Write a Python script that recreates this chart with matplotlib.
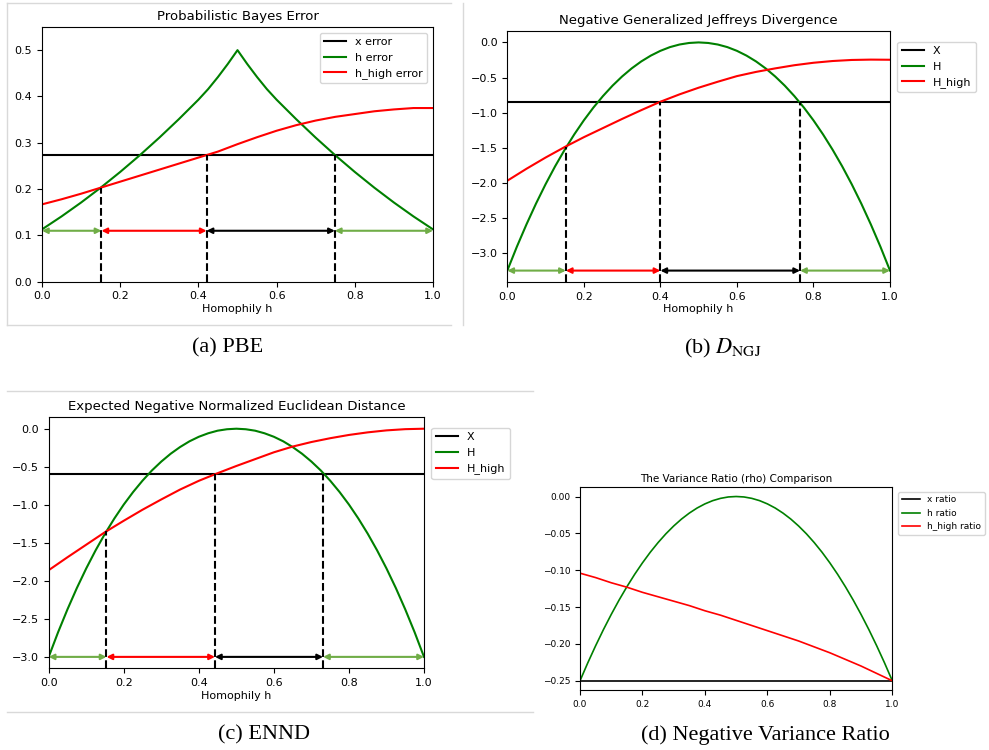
import matplotlib
matplotlib.use("Agg")
from matplotlib import pyplot as plt
from matplotlib.lines import Line2D

plt.rcParams['mathtext.fontset'] = 'stix'

# homophily grids (coarse for the red curves, fine for the green ones)
h = [0.0, 0.05, 0.1, 0.15, 0.2, 0.25, 0.3, 0.35, 0.4, 0.45, 0.5,
     0.55, 0.6, 0.65, 0.7, 0.75, 0.8, 0.85, 0.9, 0.95, 1.0]
h_fine = [i / 40 for i in range(41)]

# (a) PBE
pbe_x = 0.273
pbe_h_left = [0.113, 0.127, 0.141, 0.156, 0.171, 0.187, 0.203, 0.220, 0.237, 0.255, 0.273,
              0.292, 0.311, 0.331, 0.351, 0.372, 0.393, 0.416, 0.442, 0.470, 0.500]
pbe_h = pbe_h_left + pbe_h_left[-2::-1]
pbe_high = [0.167, 0.178, 0.190, 0.203, 0.216, 0.229, 0.242, 0.255, 0.268, 0.281, 0.297,
            0.312, 0.326, 0.338, 0.348, 0.356, 0.362, 0.368, 0.372, 0.375, 0.375]
pbe_cuts = [0.152, 0.421, 0.749]
pbe_cut_vals = [0.203, 0.273, 0.273]
pbe_arrow_y = 0.11

# (b) negative generalized Jeffreys divergence
ngj_x = -0.845
ngj_h_left = [-3.25, -2.910, -2.593, -2.296, -2.020, -1.764, -1.528, -1.310, -1.110, -0.928,
              -0.764, -0.616, -0.485, -0.370, -0.271, -0.188, -0.120, -0.067, -0.030, -0.008, 0.0]
ngj_h = ngj_h_left + ngj_h_left[-2::-1]
ngj_high = [-1.97, -1.80, -1.64, -1.49, -1.35, -1.22, -1.09, -0.965, -0.845, -0.74, -0.645,
            -0.56, -0.48, -0.42, -0.37, -0.325, -0.29, -0.265, -0.25, -0.245, -0.247]
ngj_cuts = [0.153, 0.400, 0.765]
ngj_cut_vals = [-1.485, -0.845, -0.845]
ngj_arrow_y = -3.25

# (c) expected negative normalized euclidean distance
ennd_x = -0.60
ennd_h_left = [-3.0, -2.676, -2.375, -2.095, -1.837, -1.599, -1.380, -1.180, -0.997, -0.832,
               -0.683, -0.549, -0.432, -0.329, -0.241, -0.166, -0.106, -0.060, -0.026, -0.007, 0.0]
ennd_h = ennd_h_left + ennd_h_left[-2::-1]
ennd_high = [-1.86, -1.69, -1.525, -1.36, -1.21, -1.065, -0.93, -0.80, -0.685, -0.585, -0.49,
             -0.40, -0.31, -0.235, -0.175, -0.125, -0.082, -0.048, -0.022, -0.006, 0.0]
ennd_cuts = [0.154, 0.443, 0.731]
ennd_cut_vals = [-1.35, -0.60, -0.60]
ennd_arrow_y = -3.0

# (d) negative variance ratio
rho_x = -0.25
rho_h_left = [-0.25, -0.2256, -0.2025, -0.1806, -0.16, -0.1406, -0.1225, -0.1056, -0.09, -0.0756,
              -0.0625, -0.0506, -0.04, -0.0306, -0.0225, -0.0156, -0.01, -0.0056, -0.0025, -0.0006, 0.0]
rho_h = rho_h_left + rho_h_left[-2::-1]
rho_high = [-0.104, -0.110, -0.117, -0.123, -0.130, -0.136, -0.142, -0.148, -0.155, -0.161, -0.168,
            -0.175, -0.182, -0.189, -0.196, -0.204, -0.212, -0.221, -0.230, -0.240, -0.25]

W, H = 989, 750
fig = plt.figure(figsize=(W / 100, H / 100), dpi=100)


def rect(left, top, right, bottom):
    return [left / W, 1 - bottom / H, (right - left) / W, (bottom - top) / H]


light_green = '#70ad47'


def draw_panel(ax, xval, hval, highval, labels, cuts, cut_vals, arrow_y, ylim):
    ax.plot([0, 1], [xval, xval], color='black', lw=1.5, label=labels[0])
    ax.plot(h_fine, hval, color='green', lw=1.5, label=labels[1])
    ax.plot(h, highval, color='red', lw=1.5, label=labels[2])
    ax.set_xlim(0, 1)
    ax.set_ylim(*ylim)
    for c, v in zip(cuts, cut_vals):
        ax.plot([c, c], [ylim[0], v], color='black', lw=1.5, ls='--')
    seg = [0.0] + cuts + [1.0]
    cols = [light_green, 'red', 'black', light_green]
    for i in range(4):
        ax.annotate('', xy=(seg[i + 1], arrow_y), xytext=(seg[i], arrow_y),
                    arrowprops=dict(arrowstyle='<|-|>', color=cols[i], lw=1.5,
                                    shrinkA=0, shrinkB=0, mutation_scale=8))
    ax.tick_params(labelsize=8)
    ax.set_xlabel('Homophily h', fontsize=8, labelpad=2)


ax1 = fig.add_axes(rect(42, 27, 433, 281.7))
draw_panel(ax1, pbe_x, pbe_h, pbe_high, ['x error', 'h error', 'h_high error'],
           pbe_cuts, pbe_cut_vals, pbe_arrow_y, (0, 0.55))
ax1.set_title('Probabilistic Bayes Error', fontsize=9.5, pad=5)
ax1.legend(loc='upper right', fontsize=8)

ax2 = fig.add_axes(rect(507.3, 31, 890, 282))
draw_panel(ax2, ngj_x, ngj_h, ngj_high, ['X', 'H', 'H_high'],
           ngj_cuts, ngj_cut_vals, ngj_arrow_y, (-3.4125, 0.1625))
ax2.set_title('Negative Generalized Jeffreys Divergence', fontsize=9.5, pad=5)
ax2.legend(loc='upper left', bbox_to_anchor=(1.005, 0.98), fontsize=8)

ax3 = fig.add_axes(rect(48.7, 417.3, 424, 668.3))
draw_panel(ax3, ennd_x, ennd_h, ennd_high, ['X', 'H', 'H_high'],
           ennd_cuts, ennd_cut_vals, ennd_arrow_y, (-3.15, 0.15))
ax3.set_title('Expected Negative Normalized Euclidean Distance', fontsize=9.5, pad=5)
ax3.legend(loc='upper left', bbox_to_anchor=(1.005, 0.98), fontsize=8)

ax4 = fig.add_axes(rect(580, 487.3, 892.3, 690))
ax4.plot([0, 1], [rho_x, rho_x], color='black', lw=1.2, label='x ratio')
ax4.plot(h_fine, rho_h, color='green', lw=1.2, label='h ratio')
ax4.plot(h, rho_high, color='red', lw=1.2, label='h_high ratio')
ax4.set_xlim(0, 1)
ax4.set_ylim(-0.2625, 0.0125)
ax4.tick_params(labelsize=6.5)
ax4.set_title('The Variance Ratio (rho) Comparison', fontsize=7.5, pad=4)
ax4.legend(loc='upper left', bbox_to_anchor=(1.005, 1.0), fontsize=6.5)

# captions
cap = dict(family='Liberation Serif', fontsize=16, ha='center', va='center')
fig.text(228 / W, 1 - 348 / H, '(a) PBE', **cap)
fig.text(723 / W, 1 - 348 / H, r'(b) $D_{\mathrm{NGJ}}$', **cap)
fig.text(264 / W, 1 - 735 / H, '(c) ENND', **cap)
fig.text(765 / W, 1 - 735 / H, '(d) Negative Variance Ratio', **cap)

# light frame lines around the pasted panels
gray = '#d9d9d9'
for (x0, y0, x1, y1) in [(7, 3, 451, 3), (7, 325, 451, 325), (7, 3, 7, 325),
                         (463, 3, 463, 325), (7, 391, 533, 391), (7, 712, 533, 712)]:
    fig.add_artist(Line2D([x0 / W, x1 / W], [1 - y0 / H, 1 - y1 / H], color=gray, lw=1))

fig.savefig('out.png', dpi=100)
